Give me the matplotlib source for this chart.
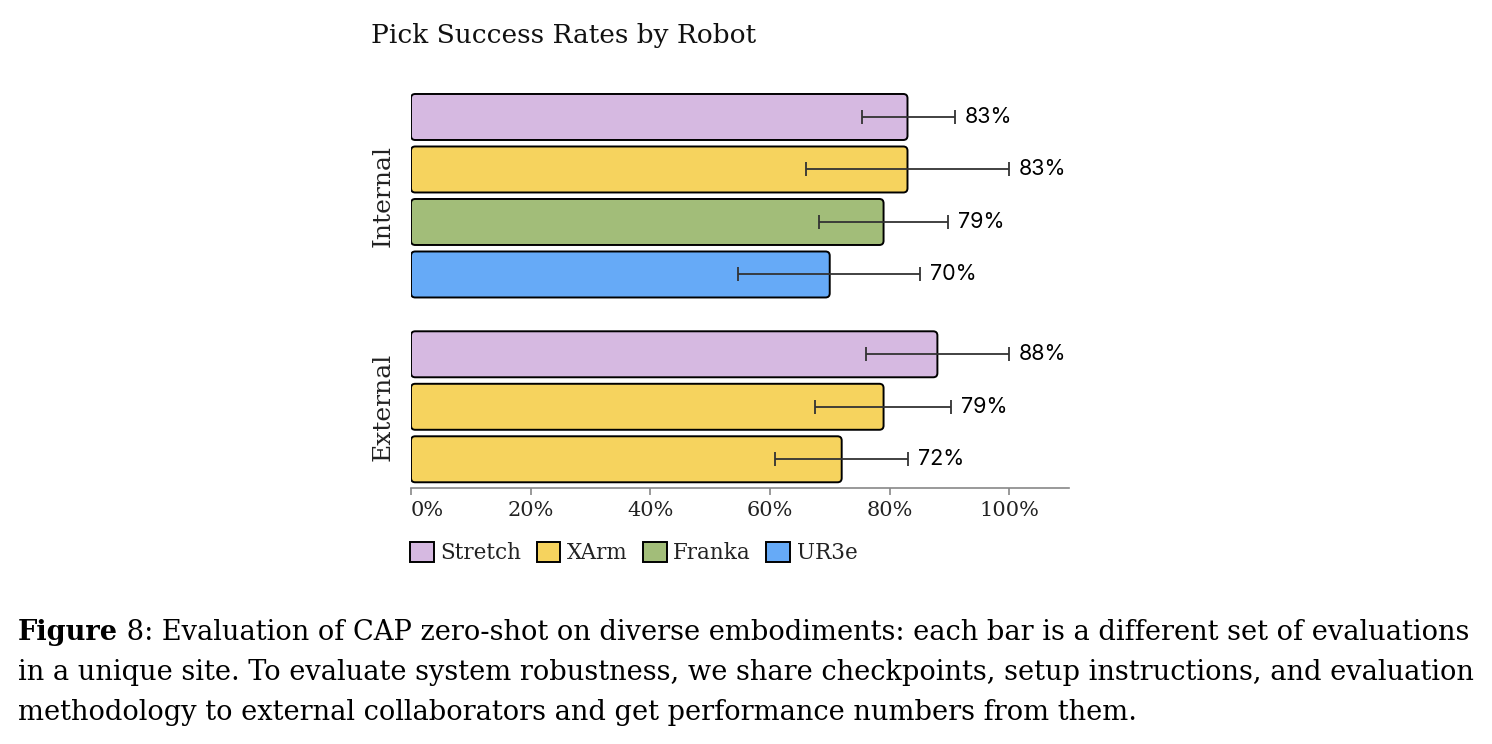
import numpy as np
import matplotlib.pyplot as plt
from matplotlib.patches import FancyBboxPatch, Patch

# data
groups = ["Internal", "External"]
robots = ["Stretch", "XArm", "Franka", "UR3e"]
colors = {"Stretch": "#d6b9e1", "XArm": "#f6d35e", "Franka": "#a2bd79", "UR3e": "#66aaf7"}

internal_robots = ["Stretch", "XArm", "Franka", "UR3e"]
internal_rate = [83, 83, 79, 70]
internal_lo = [75.4, 66, 68.2, 54.7]
internal_hi = [91, 100, 89.8, 85.1]

external_robots = ["Stretch", "XArm", "XArm"]
external_rate = [88, 79, 72]
external_lo = [76, 67.6, 60.9]
external_hi = [100, 90.3, 83.1]

xticks = [0, 20, 40, 60, 80, 100]

caption_lines = [
    ("Figure", " 8: Evaluation of CAP zero-shot on diverse embodiments: each bar is a different set of evaluations"),
    ("", "in a unique site. To evaluate system robustness, we share checkpoints, setup instructions, and evaluation"),
    ("", "methodology to external collaborators and get performance numbers from them."),
]

SERIF = "DejaVu Serif"
SANS = "Inter"

fig = plt.figure(figsize=(14.92, 7.44), dpi=100)
ax = fig.add_axes([411 / 1492, 256 / 744, 658 / 1492, 398 / 744])

group_gap = 0.52
rows = [(internal_robots, internal_rate, internal_lo, internal_hi),
        (external_robots, external_rate, external_lo, external_hi)]
start = 0.0
group_centers = []
for names, rate, lo, hi in rows:
    pos = start + np.arange(len(names))
    group_centers.append(pos.mean())
    rate = np.array(rate)
    bars = ax.barh(pos, rate, height=0.876, color=[colors[n] for n in names])
    # swap plain bars for rounded ones
    for b in bars:
        x0, y0 = b.get_x(), b.get_y()
        w, h = b.get_width(), b.get_height()
        b.set_visible(False)
        rb = FancyBboxPatch((x0, y0), w, h,
                            boxstyle="round,pad=0,rounding_size=0.7",
                            mutation_aspect=0.115,
                            facecolor=b.get_facecolor(), edgecolor="black",
                            linewidth=1.4, zorder=2)
        ax.add_patch(rb)
    xerr = np.vstack([rate - np.array(lo), np.array(hi) - rate])
    ax.errorbar(rate, pos, xerr=xerr, fmt="none", ecolor="#333333",
                elinewidth=1.3, capsize=5.2, capthick=1.3, zorder=3)
    for p, h_, r in zip(pos, hi, rate):
        ax.text(h_ + 1.6, p, f"{r:.0f}%", ha="left", va="center",
                fontsize=15.5, family=SANS, color="black")
    start = pos[-1] + 1 + group_gap

ax.set_xlim(0, 110)
ax.set_ylim(7.067, -0.514)
ax.set_yticks([])
for s in ["top", "right", "left"]:
    ax.spines[s].set_visible(False)
ax.spines["bottom"].set_color("#888888")
ax.spines["bottom"].set_linewidth(1.2)
ax.set_xticks(xticks)
ax.set_xticklabels([f"{t}%" for t in xticks], family=SERIF, fontsize=15, color="#222222")
ax.tick_params(axis="x", length=5, color="#888888", width=1.2, pad=4)
ax.get_xticklabels()[0].set_ha("left")

for g, c in zip(groups, group_centers):
    ax.text(-0.043, c, g, transform=ax.get_yaxis_transform(), rotation=90,
            ha="center", va="center", fontsize=18, family=SERIF, color="#222222")

fig.text(371 / 1492, 1 - 36 / 744, "Pick Success Rates by Robot", ha="left", va="center",
         fontsize=19, family=SERIF, color="#111111")

handles = [Patch(facecolor=colors[r], edgecolor="black", linewidth=1.4) for r in robots]
leg = fig.legend(handles, robots, loc="center left", bbox_to_anchor=(410 / 1492, 1 - 553 / 744),
                 ncol=4, frameon=False, borderaxespad=0, borderpad=0,
                 handlelength=1.1, handleheight=1.1, handletextpad=0.3, columnspacing=0.72,
                 prop={"family": SERIF, "size": 15.5})
for t in leg.get_texts():
    t.set_color("#222222")

# caption
cap_size = 19.6
for i, (bold, rest) in enumerate(caption_lines):
    y = 1 - (640 + 40 * i) / 744
    if bold:
        tb = fig.text(18 / 1492, y, bold, ha="left", va="baseline", fontsize=cap_size,
                      family=SERIF, weight="bold")
        fig.canvas.draw()
        x1 = tb.get_window_extent().x1 / fig.bbox.width
        fig.text(x1, y, rest, ha="left", va="baseline", fontsize=cap_size, family=SERIF)
    else:
        fig.text(18 / 1492, y, rest, ha="left", va="baseline", fontsize=cap_size, family=SERIF)

fig.savefig("out.png", dpi=100)
